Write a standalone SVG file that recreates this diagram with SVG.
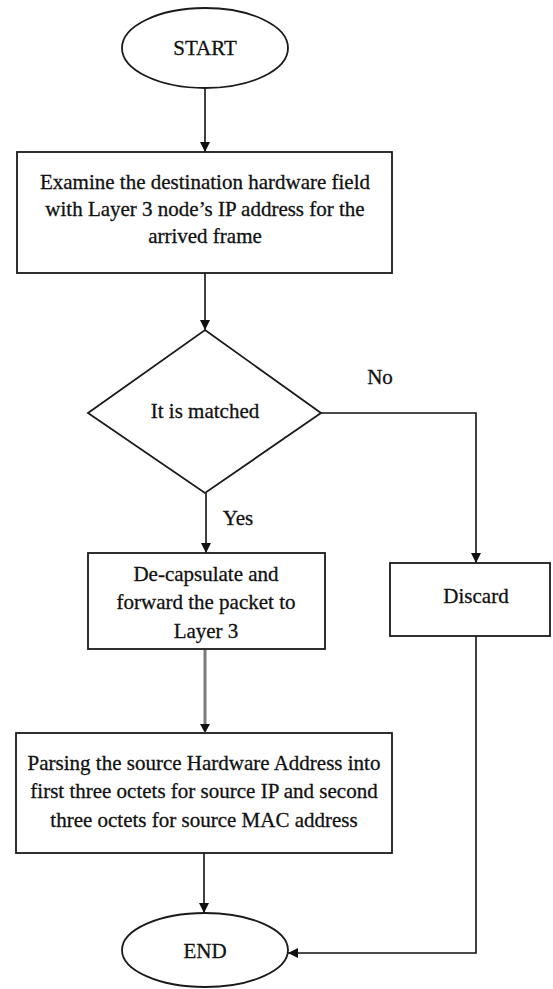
<svg xmlns="http://www.w3.org/2000/svg" width="553" height="989" viewBox="0 0 553 989">
  <style>
    .shape { fill: #ffffff; stroke: #1a1a1a; stroke-width: 1.8; }
    .label { font-family: "Liberation Serif", "Times New Roman", serif; font-size: 21px; fill: #111111; stroke: #111111; stroke-width: 0.3; text-anchor: middle; }
    .wire { fill: none; stroke: #111111; stroke-width: 1.6; }
    .wire-grey { fill: none; stroke: #7a7a7a; stroke-width: 3; }
  </style>
  <defs>
    <marker id="arrow" viewBox="0 0 10 10" refX="10" refY="5" markerWidth="10" markerHeight="10" markerUnits="userSpaceOnUse" orient="auto">
      <path d="M0,0 L10,5 L0,10 z" fill="#111111"/>
    </marker>
  </defs>
  <rect width="553" height="989" fill="#ffffff"/>

  <!-- connectors and their branch labels -->
  <g id="connectors">
    <line class="wire" x1="205" y1="88" x2="205" y2="152" marker-end="url(#arrow)"/>
    <line class="wire" x1="205" y1="273" x2="205" y2="330" marker-end="url(#arrow)"/>
    <line class="wire" x1="206" y1="493" x2="206" y2="553" marker-end="url(#arrow)"/>
    <polyline class="wire" points="321,413 476,413 476,563" marker-end="url(#arrow)"/>
    <line class="wire-grey" x1="205" y1="649" x2="205" y2="726"/>
    <path d="M200,724 L210,724 L205,733 z" fill="#111111"/>
    <line class="wire" x1="204" y1="853" x2="204" y2="913" marker-end="url(#arrow)"/>
    <polyline class="wire" points="476,636 476,953 288,953" marker-end="url(#arrow)"/>
    <text class="label" x="380" y="384">No</text>
    <text class="label" x="238" y="525">Yes</text>
  </g>

  <g id="start">
    <ellipse class="shape" cx="205" cy="48" rx="83" ry="40"/>
    <text class="label" x="205" y="55">START</text>
  </g>

  <g id="examine">
    <rect class="shape" x="17" y="152" width="375" height="121"/>
    <text class="label" x="205" y="189">Examine the destination hardware field</text>
    <text class="label" x="205" y="216">with Layer 3 node’s IP address for the</text>
    <text class="label" x="205" y="243">arrived frame</text>
  </g>

  <g id="matched">
    <polygon class="shape" points="205,330 321,413 205,493 88,413"/>
    <text class="label" x="205" y="418">It is matched</text>
  </g>

  <g id="decapsulate">
    <rect class="shape" x="88" y="553" width="237" height="96"/>
    <text class="label" x="206" y="581">De-capsulate and</text>
    <text class="label" x="206" y="609">forward the packet to</text>
    <text class="label" x="206" y="638">Layer 3</text>
  </g>

  <g id="discard">
    <rect class="shape" x="390" y="563" width="160" height="73"/>
    <text class="label" x="476" y="603">Discard</text>
  </g>

  <g id="parse">
    <rect class="shape" x="16" y="733" width="376" height="120"/>
    <text class="label" x="204" y="770">Parsing the source Hardware Address into</text>
    <text class="label" x="204" y="798">first three octets for source IP and second</text>
    <text class="label" x="204" y="827">three octets for source MAC address</text>
  </g>

  <g id="end">
    <ellipse class="shape" cx="205" cy="950" rx="83" ry="37"/>
    <text class="label" x="205" y="958">END</text>
  </g>
</svg>
